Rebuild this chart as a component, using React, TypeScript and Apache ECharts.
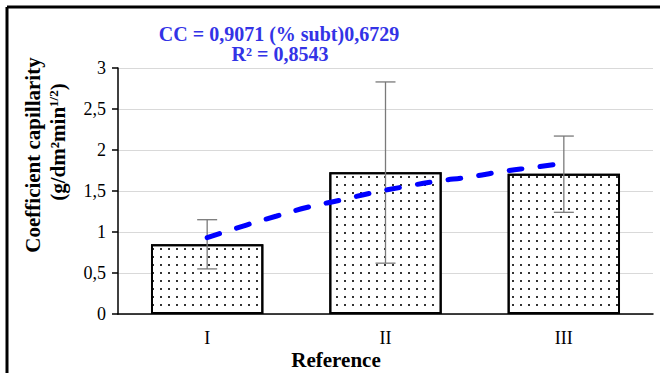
import React, { useEffect, useRef } from "react";
import * as echarts from "echarts";

const categories = ["I", "II", "III"];
const barValues = [0.85, 1.73, 1.71];
const errLow = [0.55, 0.62, 1.24];
const errHigh = [1.15, 2.83, 2.17];
const yTicks = [0, 0.5, 1, 1.5, 2, 2.5, 3];
// trendline (x in category units, 1 = I, 3 = III)
const trendX = [1.0, 1.22, 1.39, 1.57, 1.75, 1.92, 2.1, 2.29, 2.47, 2.66, 2.84, 3.0];
const trendY = [0.93, 1.085, 1.195, 1.305, 1.39, 1.475, 1.55, 1.62, 1.67, 1.74, 1.79, 1.84];
const eqLine1 = "CC = 0,9071 (% subt)0,6729";
const eqLine2 = "R² = 0,8543";
const yName1 = "Coefficient capillarity";
const xName = "Reference";

const SERIF = "'Liberation Serif', 'DejaVu Serif', serif";

export default function App() {
  const ref = useRef<HTMLDivElement>(null);
  useEffect(() => {
    if (!ref.current) return;
    const chart = echarts.init(ref.current, null, { renderer: "svg" });
    const option: any = {
      animation: false,
      backgroundColor: "#fff",
      grid: { left: 118, right: 7, top: 68, bottom: 59, containLabel: false },
      xAxis: [
        {
          type: "category",
          data: categories,
          axisLine: { lineStyle: { color: "#000", width: 1.5 } },
          axisTick: { show: false },
          axisLabel: { fontFamily: SERIF, fontSize: 18, color: "#000", margin: 15 },
        },
        { type: "value", min: 0.5, max: 3.5, show: false },
      ],
      yAxis: {
        type: "value",
        min: 0,
        max: 3,
        interval: 0.5,
        axisLine: { show: true, lineStyle: { color: "#000", width: 1.5 } },
        axisTick: { show: true, length: 6, lineStyle: { color: "#000", width: 1.5 } },
        axisLabel: {
          fontFamily: SERIF,
          fontSize: 18,
          color: "#000",
          margin: 12,
          formatter: (v: number) => (yTicks.includes(v) ? String(v).replace(".", ",") : ""),
        },
        splitLine: { lineStyle: { color: "#d9d9d9", width: 1 } },
      },
      series: [
        {
          type: "bar",
          data: barValues,
          barWidth: "63%",
          itemStyle: {
            color: "#fff",
            borderColor: "#000",
            borderWidth: 2,
            decal: {
              symbol: "rect",
              symbolSize: 1,
              dashArrayX: [2, 5.5],
              dashArrayY: [2, 5.5],
              color: "#333",
              rotation: 0,
            },
          },
          z: 2,
        },
        {
          type: "custom",
          data: categories.map((_, i) => [i, errLow[i], errHigh[i]]),
          encode: { x: 0, y: [1, 2] },
          z: 3,
          renderItem: (params: any, api: any) => {
            const i = api.value(0);
            const lo = api.coord([i, api.value(1)]);
            const hi = api.coord([i, api.value(2)]);
            const cap = 10;
            const style = { stroke: "#7a7a7a", lineWidth: 1.3 };
            return {
              type: "group",
              children: [
                { type: "line", shape: { x1: lo[0], y1: lo[1], x2: hi[0], y2: hi[1] }, style },
                { type: "line", shape: { x1: hi[0] - cap, y1: hi[1], x2: hi[0] + cap, y2: hi[1] }, style },
                { type: "line", shape: { x1: lo[0] - cap, y1: lo[1], x2: lo[0] + cap, y2: lo[1] }, style },
              ],
            };
          },
        },
        {
          type: "line",
          xAxisIndex: 1,
          data: trendX.map((x, i) => [x, trendY[i]]),
          smooth: true,
          showSymbol: false,
          symbol: "none",
          z: 4,
          lineStyle: { color: "#0000ff", width: 5, type: [13, 18], cap: "round" },
        },
      ],
      graphic: [
        {
          type: "line",
          shape: { x1: 7, y1: 7, x2: 660, y2: 7 },
          style: { stroke: "#000", lineWidth: 3 },
        },
        {
          type: "line",
          shape: { x1: 7, y1: 7, x2: 7, y2: 373 },
          style: { stroke: "#000", lineWidth: 3 },
        },
        {
          type: "text",
          x: 279,
          y: 34,
          style: {
            text: eqLine1,
            font: `bold 20px ${SERIF}`,
            fill: "#3333e6",
            align: "center",
            verticalAlign: "middle",
          },
        },
        {
          type: "text",
          x: 280,
          y: 54,
          style: {
            text: eqLine2,
            font: `bold 20px ${SERIF}`,
            fill: "#3333e6",
            align: "center",
            verticalAlign: "middle",
          },
        },
        {
          type: "text",
          x: 33,
          y: 155,
          rotation: Math.PI / 2,
          style: {
            text: yName1,
            font: `bold 21px ${SERIF}`,
            fill: "#000",
            align: "center",
            verticalAlign: "middle",
          },
        },
        {
          type: "text",
          x: 58,
          y: 142,
          rotation: Math.PI / 2,
          style: {
            text: "{a|(g/dm²min}{s|1/2}{a|)}",
            align: "center",
            verticalAlign: "middle",
            rich: {
              a: { font: `bold 21px ${SERIF}`, fill: "#000", color: "#000" },
              s: { font: `bold 13px ${SERIF}`, fill: "#000", color: "#000", verticalAlign: "top", padding: [0, 0, 10, 0] },
            },
          },
        },
        {
          type: "text",
          x: 336,
          y: 360,
          style: {
            text: xName,
            font: `bold 21px ${SERIF}`,
            fill: "#000",
            align: "center",
            verticalAlign: "middle",
          },
        },
      ],
    };
    chart.setOption(option);
    return () => chart.dispose();
  }, []);
  return (
    <div
      ref={ref}
      style={{ position: "fixed", left: 0, top: 0, width: 660, height: 373 }}
    />
  );
}
